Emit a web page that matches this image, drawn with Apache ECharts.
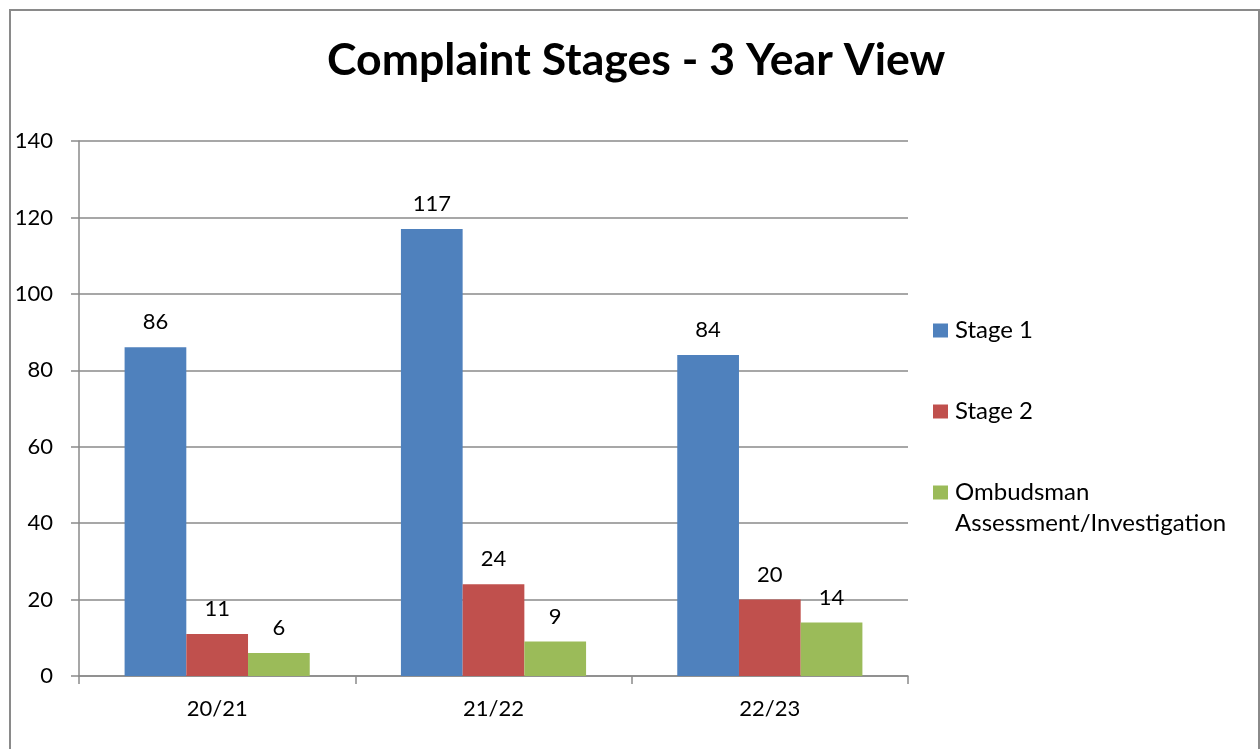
<!DOCTYPE html>
<html>
<head>
<meta charset="utf-8">
<style>
  html, body { margin: 0; padding: 0; background: #fff; }
  #main { width: 1260px; height: 749px; }
</style>
<script src="https://cdn.jsdelivr.net/npm/echarts@6/dist/echarts.min.js"></script>
</head>
<body>
<div id="main"></div>
<script>
  var years = ['20/21', '21/22', '22/23'];
  var stage1 = [86, 117, 84];
  var stage2 = [11, 24, 20];
  var ombudsman = [6, 9, 14];
  var seriesNames = ['Stage 1', 'Stage 2', 'Ombudsman\nAssessment/Investigation'];
  var colors = ['#4F81BD', '#C0504D', '#9BBB59'];

  var font = 'Lato';
  var gray = '#8a8a8a';

  var myChart = echarts.init(document.getElementById('main'));

  function makeSeries(name, values, color) {
    return {
      name: name,
      type: 'bar',
      data: values,
      barGap: 0,
      barCategoryGap: '33%',
      itemStyle: { color: color },
      label: {
        show: true,
        position: 'top',
        distance: 14,
        color: '#000',
        fontFamily: font,
        fontSize: 22
      }
    };
  }

  // one legend block per series so the two-line entry can sit like the original
  function legendAt(name, top, formatter) {
    var l = {
      orient: 'vertical',
      left: 928,
      top: top,
      itemWidth: 15,
      itemHeight: 14,
      icon: 'rect',
      data: [name],
      textStyle: {
        color: '#000', fontFamily: font, fontSize: 24, lineHeight: 31,
        padding: [0, 0, 0, 2]
      }
    };
    if (formatter) l.formatter = formatter;
    return l;
  }

  var option = {
    animation: false,
    backgroundColor: '#fff',
    title: {
      text: 'Complaint Stages - 3 Year View',
      left: 322,
      top: 33,
      textStyle: { fontFamily: font, fontWeight: 'bold', fontSize: 44.6, color: '#000' }
    },
    legend: [
      legendAt(seriesNames[0], 310),
      legendAt(seriesNames[1], 391),
      // blank first row keeps the marker level with "Ombudsman"
      legendAt(seriesNames[2], 441, function (name) { return ' \n' + name; })
    ],
    graphic: [{
      type: 'rect',
      shape: { x: 10, y: 10, width: 1249, height: 760 },
      style: { fill: null, stroke: gray, lineWidth: 2 },
      silent: true
    }],
    grid: { left: 79, right: 352, top: 141, bottom: 73 },
    xAxis: {
      type: 'category',
      data: years,
      axisLine: { lineStyle: { color: gray, width: 1.5 } },
      axisTick: { show: true, length: 8, lineStyle: { color: gray, width: 1.5 } },
      axisLabel: { color: '#000', fontFamily: font, fontSize: 22, margin: 22 }
    },
    yAxis: {
      type: 'value',
      min: 0,
      max: 140,
      interval: 20,
      axisLine: { show: true, lineStyle: { color: gray, width: 1.5 } },
      axisTick: { show: true, length: 8, lineStyle: { color: gray, width: 1.5 } },
      axisLabel: { color: '#000', fontFamily: font, fontSize: 22, margin: 26 },
      splitLine: { lineStyle: { color: gray, width: 1.5 } }
    },
    series: [
      makeSeries(seriesNames[0], stage1, colors[0]),
      makeSeries(seriesNames[1], stage2, colors[1]),
      makeSeries(seriesNames[2], ombudsman, colors[2])
    ]
  };

  myChart.setOption(option);
</script>
</body>
</html>
